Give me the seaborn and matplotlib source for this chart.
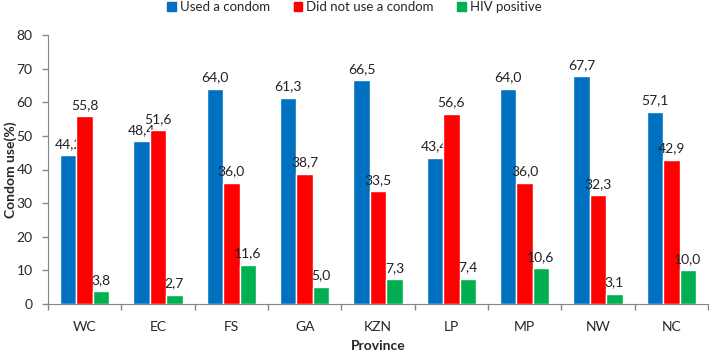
import numpy as np
import pandas as pd
import matplotlib
matplotlib.use('Agg')
import matplotlib.pyplot as plt
import seaborn as sns
from matplotlib.patches import Patch

provinces = ['WC', 'EC', 'FS', 'GA', 'KZN', 'LP', 'MP', 'NW', 'NC']
used = [44.2, 48.4, 64.0, 61.3, 66.5, 43.4, 64.0, 67.7, 57.1]
not_used = [55.8, 51.6, 36.0, 38.7, 33.5, 56.6, 36.0, 32.3, 42.9]
hiv_pos = [3.8, 2.7, 11.6, 5.0, 7.3, 7.4, 10.6, 3.1, 10.0]
groups = ['Used a condom', 'Did not use a condom', 'HIV positive']
colors = ['#0070C0', '#FF0000', '#00B050']

df = pd.DataFrame({
    'Province': provinces * 3,
    'Value': used + not_used + hiv_pos,
    'Group': [groups[0]] * 9 + [groups[1]] * 9 + [groups[2]] * 9,
})

sns.set_style('white')
plt.rcParams['font.family'] = ['Lato', 'DejaVu Sans']

fig = plt.figure(figsize=(7.09, 3.52), dpi=100)
ax = fig.add_axes([48 / 709, 48 / 352, 660 / 709, 269 / 352])

sns.barplot(data=df, x='Province', y='Value', hue='Group', palette=colors,
            width=0.67, saturation=1, ax=ax, legend=False)

# each series: bars then its labels, so the next series' bars can cover them
for i, cont in enumerate(ax.containers):
    for b in cont:
        b.set_zorder(2 + 2 * i)
    vals = [b.get_height() for b in cont]
    labs = [f'{v:.1f}'.replace('.', ',') for v in vals]
    for t in ax.bar_label(cont, labels=labs, padding=4, fontsize=10, color='#222222'):
        t.set_zorder(3 + 2 * i)

ax.set_ylim(0, 80)
ax.set_yticks(np.arange(0, 81, 10))
ax.set_xlim(-0.5, 8.5)
ax.set_xticks(np.arange(-0.5, 9, 1), minor=True)
ax.tick_params(axis='x', which='major', length=0, pad=12, labelsize=10)
ax.tick_params(axis='x', which='minor', length=4, width=1, color='#868686', direction='out', bottom=True)
ax.tick_params(axis='y', length=4, width=1, color='#868686', direction='out', left=True, pad=7, labelsize=10)
sns.despine(ax=ax)
for s in ['left', 'bottom']:
    ax.spines[s].set_color('#868686')
ax.set_xlabel('Province', fontweight='bold', fontsize=10)
ax.xaxis.set_label_coords(0.5, -0.135)
ax.set_ylabel('Condom use(%)', fontweight='bold', fontsize=10)
ax.yaxis.set_label_coords(-0.047, 0.5)

handles = [Patch(color=c) for c in colors]
fig.legend(handles, groups, loc='center', bbox_to_anchor=(0.5, 1 - 7 / 352), ncol=3,
           frameon=False, fontsize=9.5, handlelength=0.65, handleheight=0.65,
           handletextpad=0.3, columnspacing=1.8)

fig.savefig('out.png', dpi=100)
